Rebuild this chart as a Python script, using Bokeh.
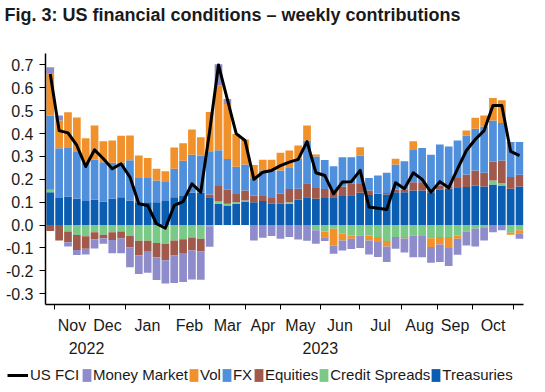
import numpy as np
from bokeh.plotting import figure
from bokeh.models import (FixedTicker, LinearAxis, PrintfTickFormatter, Legend,
                          LegendItem, Range1d, Label)
from bokeh.embed import file_html
from bokeh.resources import INLINE

# ---- data (weekly, mid-Oct 2022 .. late Oct 2023) ----
weeks = list(range(54))

treasuries = [0.144, 0.119, 0.125, 0.115, 0.105, 0.111, 0.103, 0.115, 0.122, 0.108,
              0.100, 0.100, 0.100, 0.105, 0.122, 0.127, 0.141, 0.141, 0.122, 0.093,
              0.086, 0.093, 0.103, 0.100, 0.105, 0.093, 0.093, 0.093, 0.112, 0.122,
              0.115, 0.119, 0.122, 0.127, 0.130, 0.141, 0.132, 0.137, 0.134, 0.144,
              0.144, 0.151, 0.151, 0.144, 0.154, 0.159, 0.162, 0.166, 0.173, 0.169,
              0.178, 0.173, 0.159, 0.169]
credit_spreads = [0.010, 0.000, -0.028, -0.043, -0.049, -0.031, -0.042, -0.031, -0.028, -0.046,
                  -0.068, -0.068, -0.078, -0.082, -0.067, -0.062, -0.054, -0.060, -0.005, 0.012,
                  0.007, 0.007, 0.004, 0.000, 0.000, 0.000, 0.000, 0.007, 0.000, 0.000,
                  -0.023, -0.028, -0.016, -0.038, -0.045, -0.045, -0.045, -0.052, -0.070, -0.052,
                  -0.052, -0.045, -0.048, -0.057, -0.052, -0.052, -0.045, -0.028, -0.016, -0.009,
                  0.017, 0.010, -0.033, -0.023]
equities = [-0.026, -0.067, -0.047, -0.066, -0.054, -0.031, -0.015, -0.034, -0.030, -0.052,
            -0.064, -0.048, -0.062, -0.072, -0.066, -0.063, -0.057, -0.055, 0.012, 0.066,
            0.061, 0.036, 0.044, 0.029, 0.022, 0.025, 0.044, 0.058, 0.047, 0.061,
            0.047, 0.039, 0.029, 0.042, 0.051, 0.039, 0.019, 0.000, 0.006, 0.012,
            0.010, 0.036, 0.036, 0.007, 0.019, 0.007, 0.044, 0.055, 0.066, 0.060,
            0.083, 0.099, 0.051, 0.051]
fx = [0.325, 0.217, 0.215, 0.204, 0.167, 0.176, 0.172, 0.157, 0.150, 0.175,
      0.106, 0.106, 0.095, 0.083, 0.124, 0.154, 0.166, 0.163, 0.185, 0.156,
      0.135, 0.119, 0.114, 0.076, 0.112, 0.121, 0.102, 0.095, 0.131, 0.186,
      0.138, 0.127, 0.106, 0.128, 0.116, 0.124, 0.055, 0.080, 0.089, 0.109,
      0.125, 0.141, 0.150, 0.156, 0.179, 0.178, 0.164, 0.170, 0.182, 0.202,
      0.179, 0.164, 0.153, 0.143]
vol = [0.182, 0.121, 0.153, 0.151, 0.108, 0.148, 0.092, 0.098, 0.119, 0.109,
       0.098, 0.087, 0.051, 0.047, 0.093, 0.077, 0.111, 0.080, 0.175, 0.284,
       0.240, 0.143, 0.109, 0.058, 0.047, 0.047, 0.077, 0.073, 0.058, 0.066,
       0.009, -0.025, -0.073, -0.029, -0.015, 0.036, -0.022, -0.022, -0.023, 0.025,
       -0.007, 0.038, 0.000, -0.039, -0.033, -0.048, -0.015, 0.022, 0.048, 0.048,
       0.098, 0.100, -0.009, -0.015]
money_market = [0.029, 0.022, -0.019, -0.022, -0.025, -0.040, -0.024, -0.058, -0.065, -0.086,
                -0.082, -0.092, -0.100, -0.101, -0.120, -0.124, -0.127, -0.124, -0.090, 0.092,
                0.022, 0.000, 0.000, -0.067, -0.055, -0.048, -0.060, -0.052, -0.063, -0.068,
                -0.058, -0.017, -0.036, -0.044, -0.044, -0.055, -0.062, -0.065, -0.068, -0.051,
                -0.061, -0.095, -0.092, -0.068, -0.076, -0.079, -0.070, -0.061, -0.077, -0.058,
                -0.031, -0.023, 0.000, -0.022]
us_fci = [0.660, 0.413, 0.403, 0.348, 0.256, 0.329, 0.290, 0.246, 0.268, 0.210,
          0.093, 0.086, 0.006, -0.013, 0.086, 0.103, 0.180, 0.144, 0.410, 0.700,
          0.550, 0.400, 0.370, 0.200, 0.231, 0.239, 0.260, 0.275, 0.287, 0.365,
          0.229, 0.217, 0.137, 0.188, 0.190, 0.239, 0.079, 0.074, 0.068, 0.185,
          0.159, 0.229, 0.200, 0.144, 0.190, 0.163, 0.246, 0.326, 0.374, 0.413,
          0.523, 0.523, 0.322, 0.304]

# month boundaries (in week-index units) and month names
month_bounds = [0.47, 4.43, 8.49, 13.46, 17.98, 22.05, 26.0, 30.52, 34.93, 39.68, 43.74, 47.7, 52.33]
month_names = ["Nov", "Dec", "Jan", "Feb", "Mar", "Apr", "May", "Jun", "Jul", "Aug", "Sep", "Oct"]
year_pos = [4.09, 30.5]
year_names = ["2022", "2023"]
y_ticks = [-0.3, -0.2, -0.1, 0.0, 0.1, 0.2, 0.3, 0.4, 0.5, 0.6, 0.7]
title_text = "Fig. 3: US financial conditions \u2013 weekly contributions"

FONT = "Liberation Sans"
TXT = "#1a1a1a"
W = 545

colors = {"Treasuries": "#0a5db0", "Credit Spreads": "#7ac986", "Equities": "#a0594a",
          "FX": "#4f8fdb", "Vol": "#f1912b", "Money Market": "#8e8ccb"}

# ---------- title strip ----------
t = figure(width=W, height=30, output_backend="svg", toolbar_location=None,
           x_range=Range1d(0, W), y_range=Range1d(0, 30), x_axis_type=None, y_axis_type=None,
           min_border=0, title=None)
t.outline_line_color = None
t.add_layout(Label(x=4, y=15.5, text=title_text, text_font=FONT, text_font_size="18px",
                   text_font_style="bold", text_color=TXT, text_baseline="middle",
                   text_align="left"))

# ---------- main chart ----------
p = figure(frame_width=478, frame_height=251, output_backend="svg", toolbar_location=None,
           x_range=Range1d(-0.54, 53.45), y_range=Range1d(-0.347, 0.75), title=None,
           min_border_left=45, min_border_right=22, min_border_top=23, min_border_bottom=52)
p.outline_line_color = None
p.xgrid.visible = False
p.ygrid.visible = False

stack = [("Treasuries", treasuries), ("Credit Spreads", credit_spreads),
         ("Equities", equities), ("FX", fx), ("Vol", vol), ("Money Market", money_market)]
pos_base = np.zeros(len(weeks))
neg_base = np.zeros(len(weeks))
for name, vals in stack:
    v = np.array(vals, dtype=float)
    bottom = np.where(v >= 0, pos_base, neg_base)
    top = bottom + v
    pos_base = pos_base + np.where(v > 0, v, 0)
    neg_base = neg_base + np.where(v < 0, v, 0)
    p.vbar(x=weeks, bottom=bottom, top=top, width=0.87, fill_color=colors[name], line_color=None)

p.line(x=weeks, y=us_fci, line_color="black", line_width=3, line_join="round")

yax = p.yaxis[0]
yax.ticker = FixedTicker(ticks=y_ticks)
yax.formatter = PrintfTickFormatter(format="%.1f")
yax.major_tick_out = 6
yax.major_tick_in = 0
yax.minor_tick_line_color = None
yax.major_label_standoff = 6
yax.major_label_text_font = FONT
yax.major_label_text_font_size = "16px"
yax.major_label_text_color = TXT
yax.axis_line_width = 1.5
yax.axis_line_color = "black"
yax.major_tick_line_color = "black"

label_pos = [round((month_bounds[i] + month_bounds[i + 1]) / 2, 3) for i in range(len(month_names))]
xax = p.xaxis[0]
xax.ticker = FixedTicker(ticks=label_pos, minor_ticks=month_bounds)
xax.major_label_overrides = {lp: nm for lp, nm in zip(label_pos, month_names)}
xax.major_tick_out = 0
xax.major_tick_in = 0
xax.minor_tick_out = 5
xax.minor_tick_in = 0
xax.minor_tick_line_color = "black"
xax.major_label_standoff = 7
xax.major_label_text_font = FONT
xax.major_label_text_font_size = "16px"
xax.major_label_text_color = TXT
xax.axis_line_width = 1.5
xax.axis_line_color = "black"

yr = LinearAxis(ticker=FixedTicker(ticks=year_pos),
                major_label_overrides={yp: yn for yp, yn in zip(year_pos, year_names)},
                axis_line_color=None, major_tick_line_color=None, minor_tick_line_color=None,
                major_label_standoff=-1, major_label_text_font=FONT,
                major_label_text_font_size="16px", major_label_text_color=TXT)
p.add_layout(yr, "below")

# ---------- legend strip ----------
lg = figure(width=W, height=36, output_backend="svg", toolbar_location=None,
            x_range=Range1d(0, W), y_range=Range1d(0, 36), x_axis_type=None, y_axis_type=None,
            min_border=0, title=None)
lg.outline_line_color = None
# off-canvas proxies that only provide the legend swatches
lg_line = lg.line(x=[-20, -10], y=[-20, -20], line_color="black", line_width=3)
order = ["Money Market", "Vol", "FX", "Equities", "Credit Spreads", "Treasuries"]
lg_bars = {n: lg.vbar(x=[-20], bottom=[-20], top=[-10], width=1, fill_color=colors[n],
                      line_color=None) for n in order}
common = dict(orientation="horizontal", padding=0, margin=0, border_line_color=None,
              background_fill_alpha=0, label_text_font=FONT, label_text_font_size="15px",
              label_text_color=TXT, spacing=0, label_height=16)
leg_a = Legend(items=[LegendItem(label="US FCI", renderers=[lg_line])],
               location=(7, 9), glyph_width=21, glyph_height=16, label_standoff=2, **common)
leg_b = Legend(items=[LegendItem(label=n, renderers=[lg_bars[n]]) for n in order],
               location=(81, 9), glyph_width=11, glyph_height=16, label_standoff=1, **common)
lg.add_layout(leg_a, "center")
lg.add_layout(leg_b, "center")

open("out.html", "w").write(file_html([t, p, lg], INLINE))
